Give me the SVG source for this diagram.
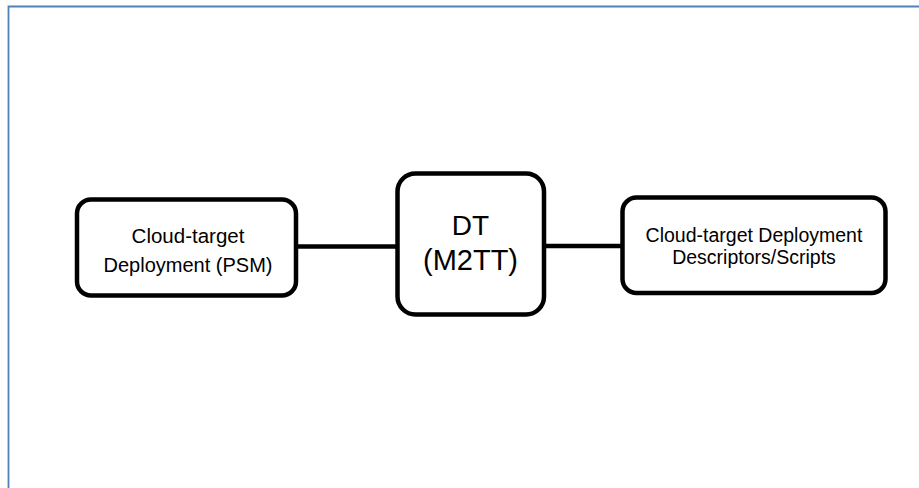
<svg xmlns="http://www.w3.org/2000/svg" width="919" height="488" viewBox="0 0 919 488">
  <style>
    .frame { fill: none; stroke: #4F81BD; stroke-width: 1.8; }
    .box { fill: #FFFFFF; stroke: #000000; stroke-width: 4.5; }
    .link { stroke: #000000; stroke-width: 4.5; fill: none; }
    .lbl { font-family: "Liberation Sans", Arial, sans-serif; fill: #000000; text-anchor: middle; }
  </style>
  <rect width="919" height="488" fill="#FFFFFF"/>
  <!-- page frame: left and top edges -->
  <path class="frame" d="M8.5,488 V6.5 H919"/>

  <g id="connectors">
    <line class="link" x1="296" y1="246.5" x2="398" y2="246.5"/>
    <line class="link" x1="544" y1="246" x2="623" y2="246"/>
  </g>

  <g id="psm">
    <rect class="box" x="77" y="199.5" width="219" height="96" rx="14" ry="14"/>
    <text class="lbl" font-size="20.5" x="188" y="243">Cloud-target</text>
    <text class="lbl" font-size="20" x="188" y="272">Deployment (PSM)</text>
  </g>

  <g id="dt">
    <rect class="box" x="397.5" y="173.5" width="146.5" height="141" rx="18" ry="18"/>
    <text class="lbl" font-size="28" x="470.5" y="235">DT</text>
    <text class="lbl" font-size="29" x="470.5" y="270">(M2TT)</text>
  </g>

  <g id="scripts">
    <rect class="box" x="622.5" y="197.5" width="263" height="95.5" rx="14" ry="14"/>
    <text class="lbl" font-size="19.5" x="754" y="242">Cloud-target Deployment</text>
    <text class="lbl" font-size="19.5" x="754" y="264">Descriptors/Scripts</text>
  </g>
</svg>
